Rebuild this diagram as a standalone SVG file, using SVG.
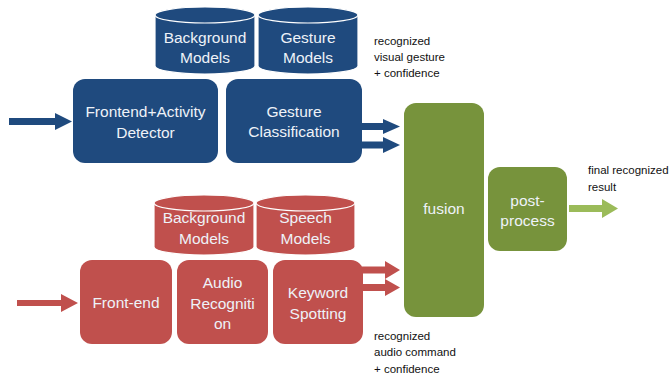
<svg xmlns="http://www.w3.org/2000/svg" width="672" height="376" viewBox="0 0 672 376">
<style>
.blue{fill:#1F4A7E;}
.red{fill:#C0504D;}
.green{fill:#77933C;}
.cyl{stroke:#ffffff;stroke-width:1.2;}
.bt{font-family:"Liberation Sans",Arial,sans-serif;font-size:15.5px;fill:#EEF2F8;text-anchor:middle;}
.lbl{font-family:"Liberation Sans",Arial,sans-serif;font-size:11.5px;fill:#111111;}
</style>
<rect width="672" height="376" fill="#ffffff"/>
<g id="connectors">
<polygon class="blue" points="9,118 55,118 55,113 72,121.5 55,130 55,125 9,125"/>
<polygon class="blue" points="358,123 383,123 383,119 400,126.5 383,134 383,130 362,130"/>
<polygon class="blue" points="362,141.5 383,141.5 383,137 400,145 383,153 383,148.5 358,148.5"/>
<polygon class="red" points="17,300 61,300 61,294 78,303 61,312 61,306 17,306"/>
<polygon class="red" points="360,266.5 385,266.5 385,261 400,270 385,279 385,273.5 363,273.5"/>
<polygon class="red" points="363,284 385,284 385,279 400,287.5 385,296 385,291 360,291"/>
<polygon fill="#9BBB59" points="569,205 602,205 602,199 618,208.5 602,218 602,212 569,212"/>
</g>
<g id="bg-models-blue">
<path class="blue cyl" d="M155,15 A50,8 0 0 1 255,15 L255,66 A50,8 0 0 1 155,66 Z"/>
<ellipse class="blue cyl" cx="205" cy="15" rx="50" ry="8"/>
<text class="bt" x="205" y="43">Background</text>
<text class="bt" x="205" y="63">Models</text>
</g>
<g id="gesture-models">
<path class="blue cyl" d="M258,15 A50,8 0 0 1 358,15 L358,66 A50,8 0 0 1 258,66 Z"/>
<ellipse class="blue cyl" cx="308" cy="15" rx="50" ry="8"/>
<text class="bt" x="308" y="43">Gesture</text>
<text class="bt" x="308" y="63">Models</text>
</g>
<g id="frontend-activity">
<rect class="blue" x="73" y="79" width="145" height="84" rx="12"/>
<text class="bt" x="145.5" y="117">Frontend+Activity</text>
<text class="bt" x="145.5" y="138">Detector</text>
</g>
<g id="gesture-classification">
<rect class="blue" x="226" y="79" width="136" height="84" rx="12"/>
<text class="bt" x="294" y="117">Gesture</text>
<text class="bt" x="294" y="137">Classification</text>
</g>
<g id="bg-models-red">
<path class="red cyl" d="M154,203 A50,8 0 0 1 254,203 L254,247 A50,8 0 0 1 154,247 Z"/>
<ellipse class="red cyl" cx="204" cy="203" rx="50" ry="8"/>
<text class="bt" x="204" y="223">Background</text>
<text class="bt" x="204" y="244">Models</text>
</g>
<g id="speech-models">
<path class="red cyl" d="M256,203 A49.5,8 0 0 1 355,203 L355,247 A49.5,8 0 0 1 256,247 Z"/>
<ellipse class="red cyl" cx="305.5" cy="203" rx="49.5" ry="8"/>
<text class="bt" x="305.5" y="223">Speech</text>
<text class="bt" x="305.5" y="244">Models</text>
</g>
<g id="front-end">
<rect class="red" x="80" y="260" width="92" height="84" rx="12"/>
<text class="bt" x="126" y="308">Front-end</text>
</g>
<g id="audio-recognition">
<rect class="red" x="177" y="260" width="91" height="84" rx="12"/>
<text class="bt" x="222.5" y="288">Audio</text>
<text class="bt" x="222.5" y="309">Recogniti</text>
<text class="bt" x="222.5" y="329">on</text>
</g>
<g id="keyword-spotting">
<rect class="red" x="273" y="260" width="90" height="84" rx="12"/>
<text class="bt" x="318" y="298">Keyword</text>
<text class="bt" x="318" y="319">Spotting</text>
</g>
<g id="fusion">
<rect class="green" x="404" y="103" width="80" height="214" rx="12"/>
<text class="bt" x="444" y="214">fusion</text>
</g>
<g id="post-process">
<rect class="green" x="488" y="167" width="79" height="84" rx="12"/>
<text class="bt" x="527.5" y="206">post-</text>
<text class="bt" x="527.5" y="226">process</text>
</g>
<g id="labels">
<text class="lbl" x="374" y="45">recognized</text>
<text class="lbl" x="374" y="61">visual gesture</text>
<text class="lbl" x="374" y="77">+ confidence</text>
<text class="lbl" x="588" y="174">final recognized</text>
<text class="lbl" x="588" y="191">result</text>
<text class="lbl" x="374" y="340">recognized</text>
<text class="lbl" x="374" y="356">audio command</text>
<text class="lbl" x="374" y="373">+ confidence</text>
</g>
</svg>
